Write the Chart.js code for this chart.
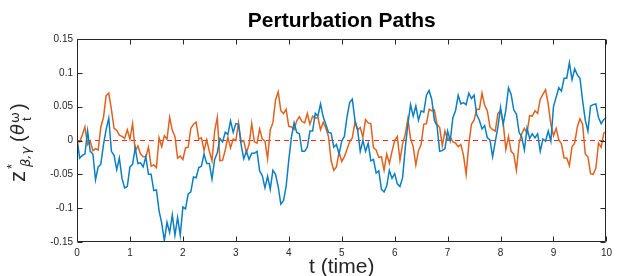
<!DOCTYPE html>
<html><head><meta charset="utf-8">
<script src="https://cdn.jsdelivr.net/npm/chart.js@4.4.1/dist/chart.umd.min.js"></script>
<style>html,body{margin:0;padding:0;background:#fff}#c{display:block}</style>
</head><body>
<canvas id="c" width="617" height="276"></canvas>
<script>
const titleText = "Perturbation Paths";
const xLabelText = "t (time)";
const xTicks = [0,1,2,3,4,5,6,7,8,9,10];
const xTickLabels = ["0","1","2","3","4","5","6","7","8","9","10"];
const yTicks = [-0.15,-0.1,-0.05,0,0.05,0.1,0.15];
const yTickLabels = ["-0.15","-0.1","-0.05","0","0.05","0.1","0.15"];
const timeStep = 0.05;
const bluePath = [
0.003,-0.026,-0.022,-0.020,0.014,-0.016,-0.020,-0.058,-0.039,-0.035,
-0.006,0.016,0.033,-0.016,-0.022,-0.043,-0.026,-0.056,-0.070,-0.068,
-0.039,-0.035,-0.011,-0.034,-0.033,-0.039,-0.024,-0.050,-0.050,-0.074,
-0.073,-0.104,-0.122,-0.148,-0.121,-0.136,-0.110,-0.140,-0.114,-0.140,
-0.098,-0.101,-0.079,-0.076,-0.054,-0.055,-0.040,-0.038,-0.020,-0.034,
-0.034,-0.057,-0.028,-0.018,0.003,-0.002,0.012,0.009,0.029,0.012,
0.025,0.024,-0.006,-0.027,-0.016,-0.028,-0.019,-0.019,-0.016,-0.045,
-0.052,-0.070,-0.053,-0.072,-0.044,-0.050,-0.068,-0.094,-0.089,-0.068,
-0.029,0.005,0.026,0.012,0.010,-0.016,-0.016,-0.010,0.014,0.014,
0.040,0.036,0.054,0.035,0.024,0.012,0.011,-0.010,-0.006,-0.020,
-0.001,0.006,0.035,0.056,0.061,0.030,0.016,-0.016,0.000,-0.016,
-0.004,-0.030,-0.028,-0.048,-0.045,-0.072,-0.076,-0.067,-0.044,-0.056,
-0.049,-0.064,-0.068,-0.055,-0.011,0.024,0.053,0.036,0.051,0.030,
0.044,0.042,0.067,0.074,0.061,0.030,0.022,-0.016,-0.015,-0.012,
0.014,0.000,0.034,0.044,0.067,0.054,0.056,0.053,0.070,0.062,
0.067,0.038,0.030,0.017,0.022,0.004,0.001,-0.024,-0.002,0.020,
0.049,0.024,0.045,0.078,0.068,0.045,0.039,0.012,0.005,-0.014,
0.018,0.003,0.010,0.004,0.010,-0.016,0.002,-0.001,0.014,-0.001,
0.050,0.064,0.078,0.073,0.092,0.092,0.115,0.090,0.106,0.097,
0.092,0.059,0.030,0.014,0.051,0.053,0.054,0.034,0.025,0.031,
0.034];
const orangePath = [
0.000,-0.002,0.008,0.020,-0.006,-0.001,-0.015,-0.012,-0.014,0.020,
0.034,0.066,0.070,0.046,0.018,0.015,0.008,0.006,0.003,0.016,
0.002,0.025,-0.016,-0.008,-0.020,-0.024,-0.024,-0.010,-0.038,-0.036,
-0.040,0.004,-0.009,0.007,0.002,0.034,0.015,0.006,-0.026,-0.023,
-0.028,-0.011,-0.010,0.018,0.024,0.027,0.002,0.004,-0.015,0.001,
-0.016,-0.030,0.014,0.034,-0.030,-0.029,-0.014,0.005,-0.011,0.002,
0.000,0.026,-0.002,0.000,-0.018,-0.006,0.025,-0.002,-0.004,0.017,
0.002,-0.001,-0.027,0.016,0.026,0.060,0.072,0.044,0.040,0.046,
0.021,0.020,0.016,0.029,0.035,0.028,0.026,0.040,0.024,0.036,
0.033,0.034,0.016,0.027,0.018,0.006,-0.030,-0.044,-0.039,-0.017,
-0.031,-0.024,-0.013,-0.002,0.004,0.027,0.016,0.019,0.005,0.031,
0.026,0.025,-0.011,-0.014,-0.025,-0.024,-0.044,-0.020,-0.034,-0.016,
0.000,0.006,-0.029,-0.005,0.009,0.032,0.003,-0.009,-0.036,-0.015,
-0.006,0.024,0.025,0.046,0.044,0.045,0.024,0.019,-0.008,0.014,
0.001,0.005,-0.002,-0.004,-0.009,-0.006,-0.022,-0.050,-0.006,0.024,
0.030,0.046,0.046,0.070,0.052,0.044,0.020,0.016,0.014,0.040,
0.044,0.026,-0.013,0.006,-0.016,-0.020,-0.044,-0.004,0.010,0.018,
0.011,0.037,0.036,0.044,0.040,0.061,0.068,0.075,0.054,0.024,
0.007,0.018,0.001,-0.005,-0.026,-0.026,-0.037,-0.009,-0.004,0.020,
0.032,0.024,-0.020,-0.024,-0.049,-0.050,-0.041,-0.004,-0.010,0.011,
0.014];
const zeroTimes = [0, 10];
const zeroLevel = [0, 0];

const FONT = '"Liberation Sans", Arial, Helvetica, sans-serif';
const AX = '#262626';
const toXY = (arr) => arr.map((v, i) => ({x: +(i * timeStep).toFixed(2), y: v}));

const decor = {
  id: 'decor',
  afterDraw(chart) {
    const ctx = chart.ctx, a = chart.chartArea;
    const xs = chart.scales.x, ys = chart.scales.y;
    ctx.save();
    ctx.strokeStyle = AX; ctx.lineWidth = 1;
    const L = Math.round(a.left) + 0.5, R = Math.round(a.right) - 0.5;
    const T = Math.round(a.top) + 0.5, B = Math.round(a.bottom) - 0.5;
    ctx.beginPath();
    ctx.rect(L, T, R - L, B - T);
    const tl = 5;
    xTicks.forEach(v => {
      const px = Math.round(xs.getPixelForValue(v)) + 0.5;
      ctx.moveTo(px, B); ctx.lineTo(px, B - tl);
      ctx.moveTo(px, T); ctx.lineTo(px, T + tl);
    });
    yTicks.forEach(v => {
      const py = Math.round(ys.getPixelForValue(v)) + 0.5;
      ctx.moveTo(L, py); ctx.lineTo(L + tl, py);
      ctx.moveTo(R, py); ctx.lineTo(R - tl, py);
    });
    ctx.stroke();
    // title
    ctx.fillStyle = '#000';
    ctx.textAlign = 'center'; ctx.textBaseline = 'alphabetic';
    ctx.font = 'bold 21px ' + FONT;
    ctx.fillText(titleText, (a.left + a.right) / 2, 27);
    // x label
    ctx.fillStyle = AX;
    ctx.font = '21px ' + FONT;
    ctx.fillText(xLabelText, (a.left + a.right) / 2, 273);
    // y label (rotated)
    ctx.translate(25, 182);
    ctx.rotate(-Math.PI / 2);
    ctx.textAlign = 'left';
    ctx.font = '22px ' + FONT;
    ctx.fillText('z', 0, 0);
    ctx.font = '13px ' + FONT;
    ctx.fillText('*', 13, -9);
    ctx.font = 'italic 13px "DejaVu Sans", ' + FONT;
    ctx.fillText('\u03B2,\u03B3', 15, 5);
    ctx.font = '20px ' + FONT;
    ctx.fillText('(', 40, 0);
    ctx.font = 'italic 18px "DejaVu Sans", ' + FONT;
    ctx.fillText('\u03B8', 47, -1);
    ctx.font = '13px "DejaVu Sans", ' + FONT;
    ctx.fillText('\u03C9', 59, -6);
    ctx.font = '13px ' + FONT;
    ctx.fillText('t', 61, 6);
    ctx.font = '20px ' + FONT;
    ctx.fillText(')', 72, 0);
    ctx.restore();
  }
};

new Chart(document.getElementById('c'), {
  type: 'line',
  data: {
    datasets: [
      {label: 'path 1', data: toXY(bluePath), borderColor: '#0A7FC4', borderWidth: 1.5, pointRadius: 0, tension: 0, fill: false},
      {label: 'path 2', data: toXY(orangePath), borderColor: '#E0621F', borderWidth: 1.5, pointRadius: 0, tension: 0, fill: false},
      {label: 'zero', data: zeroTimes.map((t, i) => ({x: t, y: zeroLevel[i]})), borderColor: '#FF2A1A', borderWidth: 1, borderDash: [5, 4], pointRadius: 0, fill: false}
    ]
  },
  options: {
    responsive: false, animation: false, devicePixelRatio: 1,
    layout: {padding: {top: 39, right: 6, left: 0, bottom: 0}},
    plugins: {legend: {display: false}, title: {display: false}, tooltip: {enabled: false}},
    scales: {
      x: {
        type: 'linear', min: 0, max: 10,
        grid: {display: false, drawTicks: false}, border: {display: false},
        afterBuildTicks: s => { s.ticks = xTicks.map(v => ({value: v})); },
        afterFit: s => { s.height = 34; },
        ticks: {color: AX, font: {family: FONT, size: 10}, padding: 5, maxRotation: 0, autoSkip: false,
                callback: (v, i) => xTickLabels[i]}
      },
      y: {
        type: 'linear', min: -0.15, max: 0.15,
        grid: {display: false, drawTicks: false}, border: {display: false},
        afterBuildTicks: s => { s.ticks = yTicks.map(v => ({value: v})); },
        afterFit: s => { s.width = 77; },
        ticks: {color: AX, font: {family: FONT, size: 10}, padding: 4, autoSkip: false,
                callback: (v, i) => yTickLabels[i]}
      }
    }
  },
  plugins: [decor]
});
</script>
</body></html>
